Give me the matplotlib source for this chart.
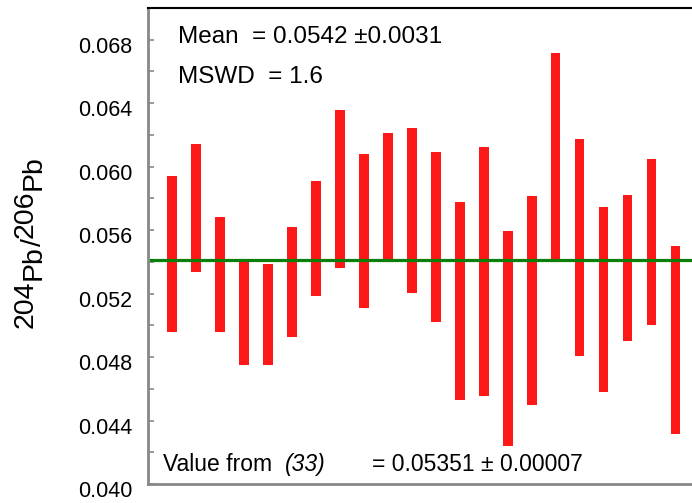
import numpy as np
import matplotlib
matplotlib.use("Agg")
import matplotlib.pyplot as plt
from matplotlib.transforms import ScaledTranslation

plt.rcParams["font.family"] = ["Liberation Sans", "DejaVu Sans"]

# upper and lower ends of each error bar, in the order they appear
upper = [0.05943, 0.06145, 0.05685, 0.05421, 0.05388, 0.05621, 0.05910,
         0.06360, 0.06082, 0.06215, 0.06246, 0.06090, 0.05779, 0.06126,
         0.05596, 0.05813, 0.06715, 0.06177, 0.05743, 0.05823, 0.06049,
         0.05502]
lower = [0.04955, 0.05336, 0.04955, 0.04747, 0.04747, 0.04927, 0.05188,
         0.05361, 0.05108, 0.05413, 0.05205, 0.05022, 0.04528, 0.04553,
         0.04240, 0.04500, 0.05413, 0.04806, 0.04580, 0.04900, 0.05005,
         0.04317]
mean_line = 0.0541
yticks = [0.040, 0.044, 0.048, 0.052, 0.056, 0.060, 0.064, 0.068]

upper = np.array(upper)
lower = np.array(lower)
xs = np.arange(1, len(upper) + 1)

fig = plt.figure(figsize=(6.92, 5.03), dpi=100)
ax = fig.add_axes([148 / 692, 19 / 503, 1 - 148 / 692, 476 / 503])

ax.bar(xs, upper - lower, bottom=lower, width=0.38, color="#ff1818",
       edgecolor="none", zorder=2)
ax.axhline(mean_line, xmin=0.006, xmax=1, color="#0a800a", lw=2.3, zorder=3)

ax.set_xlim(0, 22.67)
ax.set_ylim(0.040, 0.070)
ax.set_xticks([])
ax.set_yticks(yticks)
ax.set_yticks(np.arange(0.042, 0.070, 0.004), minor=True)
ax.set_yticklabels([f"{t:.3f}" for t in yticks])
ax.tick_params(axis="y", which="both", direction="in", length=4, width=1.2,
               color="#888888", labelsize=15.5, pad=11)
off = ScaledTranslation(0, -5 / 100, fig.dpi_scale_trans)
for lab in ax.get_yticklabels():
    lab.set_transform(lab.get_transform() + off)

ax.spines["right"].set_visible(False)
ax.spines["top"].set_color("black")
ax.spines["top"].set_linewidth(1.5)
for s in ("left", "bottom"):
    ax.spines[s].set_color("#888888")
    ax.spines[s].set_linewidth(2)

fs = 16.5
ax.text(0.055, 0.939, "Mean  = 0.0542 \u00b10.0031", transform=ax.transAxes,
        fontsize=17.5, va="center")
ax.text(0.055, 0.855, "MSWD  = 1.6", transform=ax.transAxes,
        fontsize=17.5, va="center")
ax.text(0.0276, 0.040, "Value from", transform=ax.transAxes,
        fontsize=fs, va="center")
ax.text(0.252, 0.040, "(33)", transform=ax.transAxes, fontsize=fs,
        va="center", style="italic")
ax.text(0.412, 0.040, "= 0.05351 \u00b1 0.00007", transform=ax.transAxes,
        fontsize=fs, va="center")

# y label: isotope masses at full size, raised above the element symbol
lfs = 20.5
shift = 8
t = fig.text(13 / 692, 175 / 503, "204", rotation=90, fontsize=lfs,
             ha="left", va="bottom")
pieces = [("Pb", shift), ("/", 0), ("206", -shift), ("Pb", shift)]
for txt, dx in pieces:
    t = fig.axes[0].annotate(txt, xy=(0, 1), xycoords=t, xytext=(dx, 0),
                             textcoords="offset pixels", rotation=90,
                             fontsize=lfs, ha="left", va="bottom",
                             annotation_clip=False)

fig.savefig("out.png", dpi=100)
